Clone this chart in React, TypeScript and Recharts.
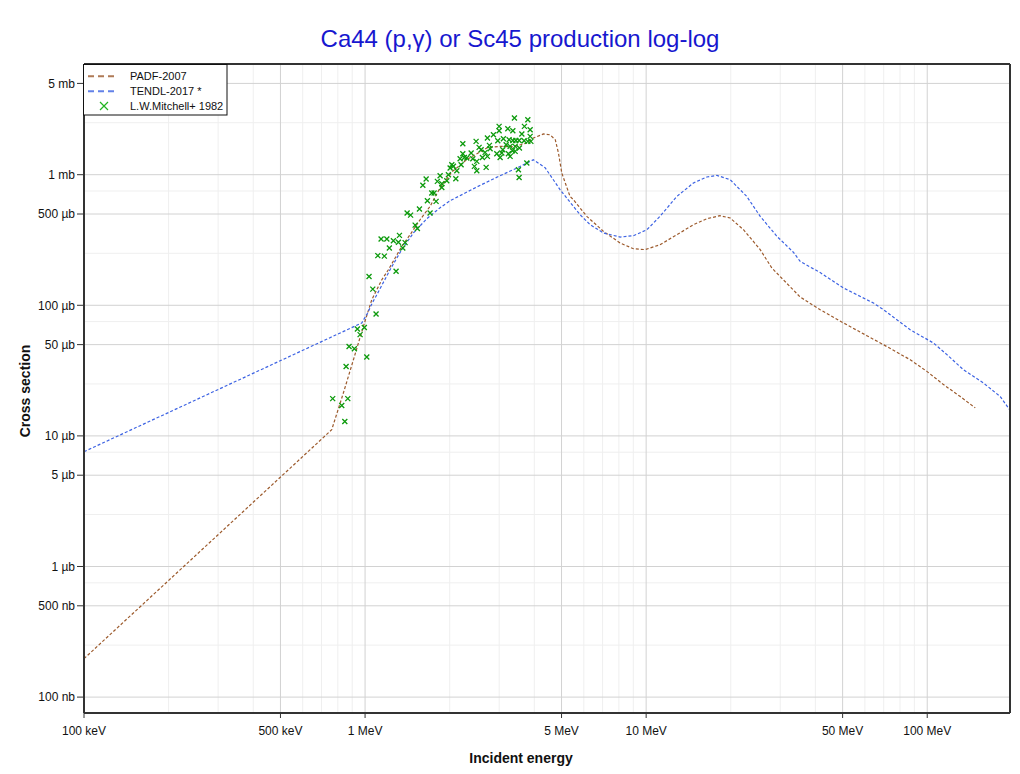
import { ComposedChart, Line, Scatter, XAxis, YAxis, CartesianGrid } from 'recharts';

const FONT = "'Liberation Sans', Arial, Helvetica, sans-serif";

// energy in MeV, cross section in mb
const padfE = [0.1, 0.761, 0.837, 0.909, 0.986, 1.056, 1.147, 1.21, 1.279, 1.35, 1.446, 1.569, 1.703, 1.849, 2.04, 2.3, 2.72, 3.02, 3.37, 3.76, 3.97, 4.31, 4.55, 4.75, 4.875, 5.01, 5.36, 5.51, 6.15, 7.05, 8.08, 9.01, 9.92, 11.2, 12.86, 14.73, 16.44, 18.3, 19.9, 22.2, 25.45, 28.0, 35.3, 41.6, 50.4, 61.0, 69.9, 87.0, 99.7, 114.3, 131.1, 148.2];
const padfS = [1.97e-4, 0.01115, 0.0213, 0.0383, 0.0689, 0.11, 0.157, 0.187, 0.23, 0.2825, 0.347, 0.452, 0.572, 0.795, 1.054, 1.303, 1.609, 1.647, 1.638, 1.748, 1.91, 2.05, 2.02, 1.853, 1.466, 1.03, 0.682, 0.643, 0.48, 0.368, 0.3, 0.271, 0.267, 0.291, 0.347, 0.414, 0.46, 0.485, 0.466, 0.379, 0.267, 0.193, 0.1158, 0.0925, 0.0732, 0.0585, 0.0499, 0.0383, 0.0312, 0.0247, 0.02, 0.0164];

const tendlE = [0.1, 0.973, 1.02, 1.06, 1.1, 1.227, 1.35, 1.486, 1.658, 1.849, 2.007, 2.497, 3.02, 3.47, 3.97, 4.37, 4.94, 5.82, 6.32, 7.05, 8.08, 9.01, 10.06, 11.2, 12.86, 14.73, 16.44, 17.85, 19.9, 22.8, 25.45, 29.2, 33.4, 35.3, 41.6, 50.4, 64.4, 69.9, 87.0, 105.3, 117.5, 134.6, 158.5, 181.9, 196.3];
const tendlS = [0.00757, 0.0732, 0.087, 0.104, 0.12, 0.187, 0.267, 0.358, 0.46, 0.559, 0.632, 0.805, 0.982, 1.125, 1.3, 1.131, 0.768, 0.494, 0.414, 0.358, 0.333, 0.341, 0.379, 0.48, 0.682, 0.864, 0.96, 0.988, 0.916, 0.682, 0.48, 0.337, 0.255, 0.217, 0.178, 0.1357, 0.104, 0.0925, 0.065, 0.0514, 0.0419, 0.0321, 0.0254, 0.02, 0.0159];

const mitE = [
  0.847, 0.767, 0.868, 0.826, 0.856, 0.877, 0.916, 1.014, 0.96, 0.939,
  0.994, 1.094, 1.065, 1.033, 1.11, 1.171, 1.22, 1.362, 1.14, 1.195,
  1.261, 1.314, 1.388, 1.325, 1.289, 1.507, 1.535, 1.411, 1.452, 1.561,
  1.703, 1.666, 1.727, 1.76, 1.789, 1.605, 1.649, 1.808, 1.849, 1.953,
  1.875, 1.875, 1.979, 2.007, 2.103, 2.12, 2.035, 2.062, 2.196, 2.178,
  2.227, 2.227, 2.256, 2.301, 2.384, 2.417, 2.449, 2.497, 2.497, 2.483,
  2.545, 2.587, 2.615, 2.673, 2.696, 2.724, 2.724, 2.769, 2.785, 2.862,
  2.942, 2.966, 2.998, 2.998, 3.023, 3.065, 3.105, 3.176, 3.22, 3.236,
  3.254, 3.281, 3.281, 3.344, 3.355, 3.355, 3.399, 3.419, 3.419, 3.439,
  3.512, 3.532, 3.532, 3.541, 3.612, 3.68, 3.689, 3.762, 3.793, 3.793,
  3.866, 3.866, 3.889, 3.09,
];
const mitS = [
  0.0129, 0.0193, 0.0193, 0.0171, 0.034, 0.0484, 0.0465, 0.0402, 0.0596, 0.0658,
  0.0677, 0.0858, 0.133, 0.166, 0.24, 0.238, 0.275, 0.275, 0.322, 0.322,
  0.312, 0.304, 0.302, 0.343, 0.182, 0.411, 0.387, 0.509, 0.49, 0.546,
  0.509, 0.632, 0.724, 0.724, 0.625, 0.831, 0.927, 0.889, 0.982, 0.9,
  0.853, 0.799, 1.0, 1.125, 0.932, 1.073, 1.193, 1.162, 1.193, 1.326,
  1.448, 1.727, 1.356, 1.342, 1.466, 1.326, 1.158, 1.264, 1.073, 1.799,
  1.618, 1.554, 1.356, 1.482, 1.137, 1.381, 1.91, 1.676, 1.581, 2.025,
  1.448, 1.821, 2.343, 2.173, 1.356, 1.466, 1.887, 1.697, 2.25, 1.448,
  1.854, 1.647, 1.381, 1.527, 2.173, 1.83, 2.718, 1.647, 1.508, 1.83,
  1.092, 0.953, 1.83, 1.601, 2.049, 1.821, 2.343, 1.229, 2.638, 1.799,
  2.211, 1.965, 1.799, 1.554,
];

const xTicks = [0.1, 0.5, 1, 5, 10, 50, 100];
const xTickLabels = ['100 keV', '500 keV', '1 MeV', '5 MeV', '10 MeV', '50 MeV', '100 MeV'];
const xMinor = [0.2, 0.3, 0.4, 0.6, 0.7, 0.8, 0.9, 2, 3, 4, 6, 7, 8, 9, 20, 30, 40, 60, 70, 80, 90];
const yTicks = [1e-4, 5e-4, 1e-3, 5e-3, 0.01, 0.05, 0.1, 0.5, 1, 5];
const yTickLabels = ['100 nb', '500 nb', '1 µb', '5 µb', '10 µb', '50 µb', '100 µb', '500 µb', '1 mb', '5 mb'];
const yMinor = [2.5e-4, 7.5e-4, 2.5e-3, 7.5e-3, 0.025, 0.075, 0.25, 0.75, 2.5];

const X_DOMAIN: [number, number] = [0.1, 197];
const Y_DOMAIN: [number, number] = [7.555e-5, 7.04];

const BROWN = '#9c5a2c';
const BLUE = '#3d63e3';
const GREEN = '#0c9a0c';
const AXIS = '#333';

const padf = padfE.map((e, i) => ({ e, s: padfS[i] }));
const tendl = tendlE.map((e, i) => ({ e, s: tendlS[i] }));
const mitchell = mitE.map((e, i) => ({ e, s: mitS[i] }));

const Cross = (props: any) => {
  const { cx, cy } = props;
  if (cx == null || cy == null) return <g />;
  const r = 2.5;
  return (
    <path
      d={`M${cx - r},${cy - r}L${cx + r},${cy + r}M${cx - r},${cy + r}L${cx + r},${cy - r}`}
      stroke={GREEN}
      strokeWidth={1.3}
      fill="none"
    />
  );
};

const tickStyle = { fontSize: 12, fill: '#111', fontFamily: FONT };

export default function App() {
  return (
    <div style={{ position: 'absolute', left: 0, top: 0, width: 1020, height: 774, background: '#fff' }}>
      <ComposedChart width={1020} height={774} margin={{ top: 64, right: 10, bottom: 0, left: 0 }}>
        <CartesianGrid stroke="#efefef" horizontalValues={yMinor} verticalValues={xMinor} />
        <CartesianGrid stroke="#d2d2d2" horizontalValues={yTicks} verticalValues={xTicks} />
        <XAxis
          dataKey="e"
          type="number"
          scale="log"
          domain={X_DOMAIN}
          allowDataOverflow
          ticks={xTicks}
          interval={0}
          height={61}
          tickSize={5}
          tickMargin={8}
          axisLine={{ stroke: AXIS, strokeWidth: 2 }}
          tickLine={{ stroke: AXIS }}
          tick={tickStyle}
          tickFormatter={(v: number) => xTickLabels[xTicks.indexOf(v)] ?? ''}
        />
        <XAxis
          xAxisId="xin"
          dataKey="e"
          type="number"
          scale="log"
          domain={X_DOMAIN}
          allowDataOverflow
          ticks={[...xTicks, ...xMinor]}
          interval={0}
          orientation="bottom"
          mirror
          height={1}
          tickSize={4}
          axisLine={false}
          tickLine={{ stroke: AXIS }}
          tick={false}
        />
        <XAxis
          xAxisId="xtop"
          dataKey="e"
          type="number"
          scale="log"
          domain={X_DOMAIN}
          allowDataOverflow
          ticks={[...xTicks, ...xMinor]}
          interval={0}
          orientation="top"
          mirror
          height={1}
          tickSize={4}
          axisLine={{ stroke: AXIS, strokeWidth: 2 }}
          tickLine={{ stroke: AXIS }}
          tick={false}
        />
        <YAxis
          dataKey="s"
          type="number"
          scale="log"
          domain={Y_DOMAIN}
          allowDataOverflow
          ticks={yTicks}
          interval={0}
          width={84}
          tickSize={7}
          tickMargin={2}
          axisLine={{ stroke: AXIS, strokeWidth: 2 }}
          tickLine={{ stroke: AXIS }}
          tick={tickStyle}
          tickFormatter={(v: number) => yTickLabels[yTicks.indexOf(v)] ?? ''}
        />
        <YAxis
          yAxisId="yin"
          dataKey="s"
          type="number"
          scale="log"
          domain={Y_DOMAIN}
          allowDataOverflow
          ticks={yMinor}
          interval={0}
          orientation="left"
          mirror
          width={1}
          tickSize={4}
          axisLine={false}
          tickLine={{ stroke: AXIS }}
          tick={false}
        />
        <YAxis
          yAxisId="yright"
          dataKey="s"
          type="number"
          scale="log"
          domain={Y_DOMAIN}
          allowDataOverflow
          ticks={[...yTicks, ...yMinor]}
          interval={0}
          orientation="right"
          mirror
          width={1}
          tickSize={4}
          axisLine={{ stroke: AXIS, strokeWidth: 2 }}
          tickLine={{ stroke: AXIS }}
          tick={false}
        />
        <Line
          data={padf}
          dataKey="s"
          type="linear"
          stroke={BROWN}
          strokeWidth={1.2}
          strokeDasharray="3 2"
          dot={false}
          isAnimationActive={false}
        />
        <Line
          data={tendl}
          dataKey="s"
          type="linear"
          stroke={BLUE}
          strokeWidth={1.2}
          strokeDasharray="3 2"
          dot={false}
          isAnimationActive={false}
        />
        <Scatter data={mitchell} dataKey="s" shape={Cross} isAnimationActive={false} />
      </ComposedChart>
      <svg
        width={1020}
        height={774}
        style={{ position: 'absolute', left: 0, top: 0, pointerEvents: 'none' }}
        fontFamily={FONT}
      >
        <text x={520} y={46.5} textAnchor="middle" fontSize={24} fill="#1717cf">
          Ca44 (p,γ) or Sc45 production log-log
        </text>
        <text x={521} y={763} textAnchor="middle" fontSize={14} fontWeight="bold" fill="#111">
          Incident energy
        </text>
        <text
          x={30}
          y={391}
          textAnchor="middle"
          fontSize={14}
          fontWeight="bold"
          fill="#111"
          transform="rotate(-90 30 391)"
        >
          Cross section
        </text>
        <g>
          <rect x={83.5} y={64.5} width={143.5} height={50.5} fill="#fff" stroke="#111" strokeWidth={1} />
          <line x1={88} y1={76.3} x2={116} y2={76.3} stroke={BROWN} strokeWidth={2} strokeDasharray="6 4" opacity={0.8} />
          <text x={130} y={80} fontSize={11} fill="#111">PADF-2007</text>
          <line x1={88} y1={91.3} x2={116} y2={91.3} stroke={BLUE} strokeWidth={2} strokeDasharray="6 4" opacity={0.8} />
          <text x={130} y={95} fontSize={11} fill="#111">TENDL-2017 *</text>
          <path d="M100,102L108,110M100,110L108,102" stroke="#22b422" strokeWidth={1.2} fill="none" />
          <text x={130} y={110} fontSize={11} fill="#111">L.W.Mitchell+ 1982</text>
        </g>
      </svg>
    </div>
  );
}
